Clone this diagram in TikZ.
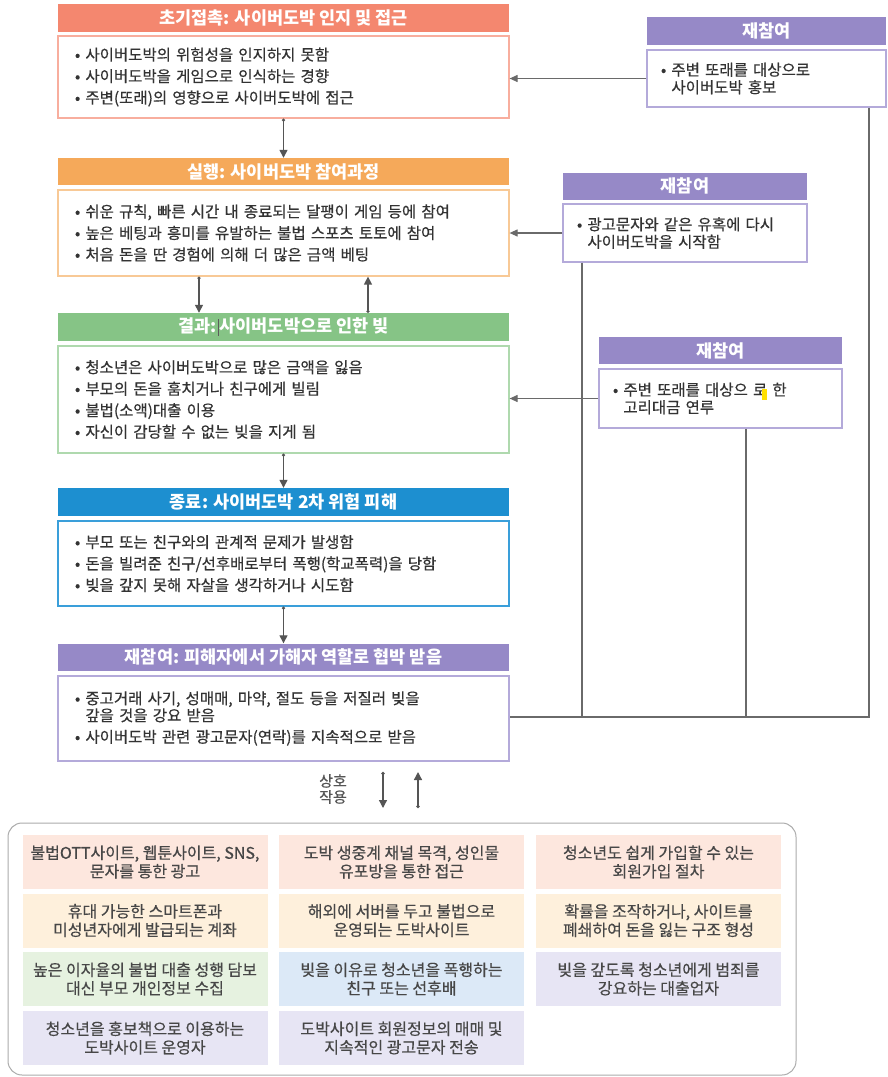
\documentclass[tikz,border=0pt]{standalone}
\usepackage{fontspec}
\setmainfont{Noto Sans CJK KR}
\newfontfamily\medfont{Noto Sans CJK KR}[FakeBold=0.5]
\usetikzlibrary{arrows.meta}
\definecolor{cSal}{HTML}{F4876F}
\definecolor{cSalL}{HTML}{F8AE9E}
\definecolor{cOra}{HTML}{F5A95A}
\definecolor{cOraL}{HTML}{F8C996}
\definecolor{cGrn}{HTML}{86C486}
\definecolor{cGrnL}{HTML}{AFD9AE}
\definecolor{cBlu}{HTML}{1D8FD0}
\definecolor{cBlu2}{HTML}{3A9FDA}
\definecolor{cPur}{HTML}{9689C7}
\definecolor{cPurL}{HTML}{B4AADA}
\definecolor{cTxt}{HTML}{333333}
\definecolor{cArr}{HTML}{555555}
\definecolor{cLine}{HTML}{6A6A6A}
\definecolor{cPink}{HTML}{FDE7DE}
\definecolor{cCream}{HTML}{FEF0DC}
\definecolor{cMint}{HTML}{E6F2E0}
\definecolor{cSky}{HTML}{DCE9F7}
\definecolor{cLav}{HTML}{E7E5F4}
\definecolor{cHi}{HTML}{FFE000}
\newcommand{\bfs}{\fontsize{17.5}{20}\selectfont\bfseries}
\newcommand{\bds}{\medfont\fontsize{15.5}{21.5}\selectfont}
\newcommand{\sds}{\medfont\fontsize{15.5}{17.5}\selectfont}
\newcommand{\cls}{\medfont\fontsize{16}{18.5}\selectfont}
\begin{document}
\begin{tikzpicture}[x=1pt,y=-1pt,
  hdr/.style={fill=#1, text=white, font=\bfs, minimum height=27pt, inner sep=0pt},
  body/.style={draw=#1, line width=1.2pt, fill=white, text=cTxt, font=\bds, align=left, inner ysep=0pt},
  mainw/.style={minimum width=451pt, text width=417pt, inner xsep=17pt},
  sidew/.style={minimum width=243pt, text width=215pt, inner xsep=14pt, font=\sds},
  arr/.style={draw=cArr, line width=1.3pt, {Circle[length=3pt]}-{Triangle[length=8pt,width=8pt]}},
  link/.style={draw=cLine, line width=1.1pt},
  larr/.style={link, -{Triangle[length=8pt,width=7pt]}},
  cell/.style={fill=#1, text=cTxt!90, font=\cls, align=center, minimum width=245pt, minimum height=54pt, inner sep=0pt},
]
\useasboundingbox (0,0) rectangle (888,1077);
\fill[white] (0,0) rectangle (888,1077);

% main column
\node[hdr=cSal, minimum width=451pt, minimum height=28pt] (h1) at (283.5,18) {초기접촉: 사이버도박 인지 및 접근};
\node[body=cSalL, mainw, minimum height=82pt] (b1) at (283.5,77) {• 사이버도박의 위험성을 인지하지 못함\\• 사이버도박을 게임으로 인식하는 경향\\• 주변(또래)의 영향으로 사이버도박에 접근};

\node[hdr=cOra, minimum width=451pt] (h2) at (283.5,171.5) {실행: 사이버도박 참여과정};
\node[body=cOraL, mainw, minimum height=86pt] (b2) at (283.5,233) {• 쉬운 규칙, 빠른 시간 내 종료되는 달팽이 게임 등에 참여\\• 높은 베팅과 흥미를 유발하는 불법 스포츠 토토에 참여\\• 처음 돈을 딴 경험에 의해 더 많은 금액 베팅};

\node[hdr=cGrn, minimum width=451pt, minimum height=28pt] (h3) at (283.5,327) {결과:\hspace{1pt}\textcolor{cTxt!80}{\rule[-3pt]{0.9pt}{17pt}}\hspace{1pt}사이버도박으로 인한 빚};
\node[body=cGrnL, mainw, minimum height=107pt] (b3) at (283.5,399.5) {• 청소년은 사이버도박으로 많은 금액을 잃음\\• 부모의 돈을 훔치거나 친구에게 빌림\\• 불법(소액)대출 이용\\• 자신이 감당할 수 없는 빚을 지게 됨};

\node[hdr=cBlu, minimum width=451pt, minimum height=28pt] (h4) at (283.5,502) {종료: 사이버도박 2차 위험 피해};
\node[body=cBlu2, mainw, minimum height=85pt] (b4) at (283.5,563.5) {• 부모 또는 친구와의 관계적 문제가 발생함\\• 돈을 빌려준 친구/선후배로부터 폭행(학교폭력)을 당함\\• 빚을 갚지 못해 자살을 생각하거나 시도함};

\node[hdr=cPur, minimum width=451pt, minimum height=27pt] (h5) at (283.5,657) {재참여: 피해자에서 가해자 역할로 협박 받음};
\node[body=cPurL, mainw, minimum height=85pt] (b5) at (283.5,718.5) {• 중고거래 사기, 성매매, 마약, 절도 등을 저질러 빚을\\[-4.5pt]\hphantom{• }갚을 것을 강요 받음\\• 사이버도박 관련 광고문자(연락)를 지속적으로 받음};

% main arrows
\draw[arr] (b1.south) -- (h2.north);
\draw[arr] ([xshift=-84.5pt]b2.south) -- ([xshift=-84.5pt]h3.north);
\draw[arr] ([xshift=84.5pt]h3.north) -- ([xshift=84.5pt]b2.south);
\draw[arr] (b3.south) -- (h4.north);
\draw[arr] (b4.south) -- (h5.north);

% side boxes
\node[hdr=cPur, minimum width=239pt, minimum height=28pt] (r1h) at (766.5,31) {재참여};
\node[body=cPurL, sidew, minimum width=239pt, text width=211pt, minimum height=57pt] (r1b) at (766.5,78.5) {• 주변 또래를 대상으로\\\hphantom{• }사이버도박 홍보};

\node[hdr=cPur, minimum width=244pt] (r2h) at (685,186) {재참여};
\node[body=cPurL, sidew, minimum width=244pt, text width=216pt, minimum height=58pt] (r2b) at (685,233) {• 광고문자와 같은 유혹에 다시\\\hphantom{• }사이버도박을 시작함};

\node[hdr=cPur, minimum width=243pt] (r3h) at (720.5,350.5) {재참여};
\node[body=cPurL, sidew, minimum width=243pt, minimum height=59pt] (r3b) at (720.5,398.5) {• 주변 또래를 대상으 로\llap{\textcolor{cHi}{\rule[-4pt]{5pt}{11pt}}} 한\\\hphantom{• }고리대금 연루};

\draw[larr] (r1b.west) -- (r1b.west -| b1.east);
\draw[larr] (r2b.west) -- (r2b.west -| b2.east);
\draw[larr] (r3b.west) -- (r3b.west -| b3.east);

\coordinate (j1) at (869,717);
\coordinate (j2) at (582,717);
\coordinate (j3) at (746,717);
\draw[link] (r1b.south -| j1) -- (j1) -- (j1 -| b5.east);
\draw[link] (r2b.south -| j2) -- (j2);
\draw[link] (r3b.south -| j3) -- (j3);

% interaction arrows
\coordinate (m1a) at (383,772);
\coordinate (m1b) at (383,808);
\coordinate (m2a) at (418,808);
\coordinate (m2b) at (418,772);
\draw[arr] (m1a) -- (m1b);
\draw[arr] (m2a) -- (m2b);
\node[text=cArr, font=\medfont\fontsize{15}{16}\selectfont, align=center] (lbl) at (333,789) {상호\\작용};

% bottom frame and cells
\node[draw=gray!65, line width=1pt, rounded corners=14pt, minimum width=788pt, minimum height=252pt, inner sep=0pt] (frame) at (402,949) {};

\node[cell=cPink] (c11) at (145,862) {불법OTT사이트, 웹툰사이트, SNS,\\문자를 통한 광고};
\node[cell=cPink] (c12) at (401.5,862) {도박 생중계 채널 목격, 성인물\\유포방을 통한 접근};
\node[cell=cPink] (c13) at (658.5,862) {청소년도 쉽게 가입할 수 있는\\회원가입 절차};

\node[cell=cCream] (c21) at (145,920.5) {휴대 가능한 스마트폰과\\미성년자에게 발급되는 계좌};
\node[cell=cCream] (c22) at (401.5,920.5) {해외에 서버를 두고 불법으로\\운영되는 도박사이트};
\node[cell=cCream] (c23) at (658.5,920.5) {확률을 조작하거나, 사이트를\\폐쇄하여 돈을 잃는 구조 형성};

\node[cell=cMint] (c31) at (145,979) {높은 이자율의 불법 대출 성행 담보\\대신 부모 개인정보 수집};
\node[cell=cSky] (c32) at (401.5,979) {빚을 이유로 청소년을 폭행하는\\친구 또는 선후배};
\node[cell=cLav] (c33) at (658.5,979) {빚을 갚도록 청소년에게 범죄를\\강요하는 대출업자};

\node[cell=cLav] (c41) at (145,1038) {청소년을 홍보책으로 이용하는\\도박사이트 운영자};
\node[cell=cLav] (c42) at (401.5,1038) {도박사이트 회원정보의 매매 및\\지속적인 광고문자 전송};
\end{tikzpicture}
\end{document}
